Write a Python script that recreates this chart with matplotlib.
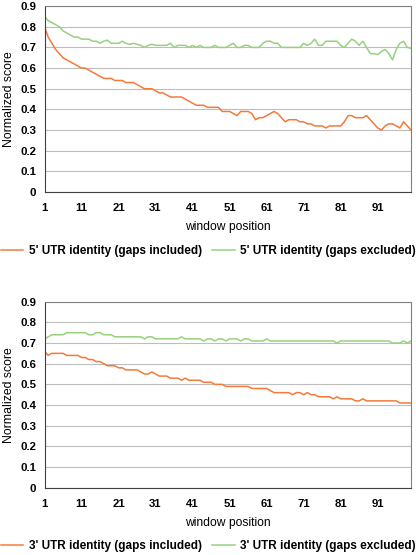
import numpy as np
import matplotlib
matplotlib.use("Agg")
import matplotlib.pyplot as plt

# ==== Data ====
window = np.arange(1, 101)
xtick_labels = [1, 11, 21, 31, 41, 51, 61, 71, 81, 91]

utr5_incl = [
    0.80, 0.75, 0.72, 0.69, 0.67, 0.65, 0.64, 0.63, 0.62, 0.61,
    0.60, 0.60, 0.59, 0.58, 0.57, 0.56, 0.55, 0.55, 0.55, 0.54,
    0.54, 0.54, 0.53, 0.53, 0.53, 0.52, 0.51, 0.50, 0.50, 0.50,
    0.49, 0.48, 0.48, 0.47, 0.46, 0.46, 0.46, 0.46, 0.45, 0.44,
    0.43, 0.42, 0.42, 0.42, 0.41, 0.41, 0.41, 0.41, 0.39, 0.39,
    0.39, 0.38, 0.37, 0.39, 0.39, 0.39, 0.38, 0.35, 0.36, 0.36,
    0.37, 0.38, 0.39, 0.38, 0.36, 0.34, 0.35, 0.35, 0.35, 0.34,
    0.34, 0.33, 0.33, 0.32, 0.32, 0.32, 0.31, 0.32, 0.32, 0.32,
    0.32, 0.34, 0.37, 0.37, 0.36, 0.36, 0.36, 0.37, 0.35, 0.33,
    0.31, 0.30, 0.32, 0.33, 0.33, 0.32, 0.31, 0.34, 0.32, 0.30,
]
utr5_excl = [
    0.85, 0.83, 0.82, 0.81, 0.80, 0.78, 0.77, 0.76, 0.75, 0.75,
    0.74, 0.74, 0.74, 0.73, 0.73, 0.72, 0.73, 0.735, 0.72, 0.72,
    0.72, 0.73, 0.72, 0.715, 0.72, 0.715, 0.71, 0.70, 0.71, 0.715,
    0.71, 0.71, 0.71, 0.71, 0.72, 0.70, 0.71, 0.71, 0.71, 0.70,
    0.71, 0.70, 0.71, 0.70, 0.70, 0.70, 0.71, 0.70, 0.70, 0.70,
    0.71, 0.72, 0.70, 0.70, 0.71, 0.71, 0.70, 0.70, 0.70, 0.72,
    0.73, 0.73, 0.72, 0.72, 0.70, 0.70, 0.70, 0.70, 0.70, 0.70,
    0.72, 0.71, 0.72, 0.74, 0.71, 0.71, 0.73, 0.73, 0.73, 0.73,
    0.71, 0.70, 0.72, 0.74, 0.73, 0.71, 0.73, 0.70, 0.67, 0.67,
    0.665, 0.68, 0.69, 0.67, 0.64, 0.69, 0.72, 0.73, 0.70, 0.695,
]
utr3_incl = [
    0.66, 0.64, 0.65, 0.65, 0.65, 0.65, 0.64, 0.64, 0.64, 0.64,
    0.63, 0.63, 0.62, 0.62, 0.61, 0.61, 0.60, 0.59, 0.59, 0.59,
    0.58, 0.58, 0.57, 0.57, 0.57, 0.57, 0.56, 0.55, 0.55, 0.56,
    0.55, 0.54, 0.54, 0.54, 0.53, 0.53, 0.53, 0.52, 0.53, 0.52,
    0.52, 0.52, 0.52, 0.51, 0.51, 0.51, 0.50, 0.50, 0.50, 0.49,
    0.49, 0.49, 0.49, 0.49, 0.49, 0.49, 0.48, 0.48, 0.48, 0.48,
    0.48, 0.47, 0.46, 0.46, 0.46, 0.46, 0.46, 0.45, 0.46, 0.46,
    0.45, 0.46, 0.45, 0.45, 0.44, 0.44, 0.44, 0.44, 0.43, 0.44,
    0.43, 0.43, 0.43, 0.43, 0.42, 0.42, 0.43, 0.42, 0.42, 0.42,
    0.42, 0.42, 0.42, 0.42, 0.42, 0.42, 0.41, 0.41, 0.41, 0.41,
]
utr3_excl = [
    0.72, 0.73, 0.74, 0.74, 0.74, 0.74, 0.75, 0.75, 0.75, 0.75,
    0.75, 0.75, 0.74, 0.74, 0.75, 0.75, 0.74, 0.74, 0.74, 0.73,
    0.73, 0.73, 0.73, 0.73, 0.73, 0.73, 0.73, 0.72, 0.73, 0.73,
    0.72, 0.72, 0.72, 0.72, 0.72, 0.72, 0.72, 0.73, 0.72, 0.72,
    0.72, 0.72, 0.72, 0.71, 0.72, 0.72, 0.71, 0.72, 0.72, 0.71,
    0.72, 0.72, 0.72, 0.71, 0.72, 0.72, 0.71, 0.71, 0.71, 0.71,
    0.72, 0.71, 0.71, 0.71, 0.71, 0.71, 0.71, 0.71, 0.71, 0.71,
    0.71, 0.71, 0.71, 0.71, 0.71, 0.71, 0.71, 0.71, 0.71, 0.70,
    0.71, 0.71, 0.71, 0.71, 0.71, 0.71, 0.71, 0.71, 0.71, 0.71,
    0.71, 0.71, 0.71, 0.71, 0.70, 0.70, 0.70, 0.71, 0.70, 0.71,
]

# ==== Style ====
plt.rcParams['font.family'] = ['Liberation Sans', 'DejaVu Sans']
ORANGE = "#F57A3A"
GREEN = "#96D27C"
GRID = "#BEBEBE"
FRAME = "#808080"


def draw_panel(fig, rect, incl, excl, prefix, legend_y):
    ax = fig.add_axes(rect)
    ax.plot(window, incl, color=ORANGE, lw=1.1, label=f"{prefix} UTR identity (gaps included)")
    ax.plot(window, excl, color=GREEN, lw=1.1, label=f"{prefix} UTR identity (gaps excluded)")
    ax.set_xlim(1, 100)
    ax.set_ylim(0, 0.9)
    ax.set_yticks(np.arange(0, 0.91, 0.1))
    ax.set_yticklabels(["0"] + [f"{v:.1f}" for v in np.arange(0.1, 0.91, 0.1)])
    ax.set_xticks(xtick_labels)
    ax.set_xticklabels([str(v) for v in xtick_labels])
    ax.yaxis.grid(True, color=GRID, lw=0.8)
    ax.set_axisbelow(True)
    ax.tick_params(length=0, labelsize=8.2)
    ax.tick_params(axis='y', pad=6)
    ax.tick_params(axis='x', pad=8)
    for lab in ax.get_xticklabels() + ax.get_yticklabels():
        lab.set_fontweight('bold')
    for s in ax.spines.values():
        s.set_color(FRAME)
        s.set_linewidth(0.8)
    ax.spines['left'].set_color("#404040")
    ax.spines['bottom'].set_color("#404040")
    ax.set_ylabel("Normalized score", fontsize=8.8, labelpad=4)
    ax.set_xlabel("window position", fontsize=8.7, labelpad=6)
    ax.legend(loc='center', bbox_to_anchor=(0.501, legend_y), bbox_transform=fig.transFigure,
              ncol=2, frameon=False, prop={'size': 8.5, 'weight': 'bold'},
              handlelength=1.9, handletextpad=0.45, columnspacing=0.9, borderpad=0)
    return ax


fig = plt.figure(figsize=(4.16, 5.55), dpi=100)
draw_panel(fig, [0.107, 0.654, 0.881, 0.335], utr5_incl, utr5_excl, "5'", 0.548)
draw_panel(fig, [0.107, 0.1213, 0.881, 0.3351], utr3_incl, utr3_excl, "3'", 0.0162)
fig.savefig("out.png", dpi=100)
